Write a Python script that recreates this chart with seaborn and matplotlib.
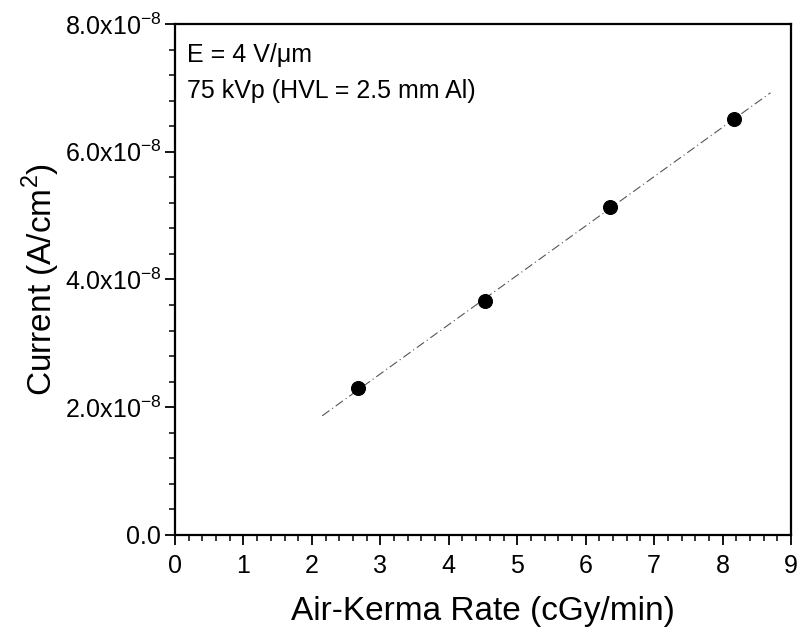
import numpy as np
import pandas as pd
import matplotlib
matplotlib.use("Agg")
import matplotlib.pyplot as plt
import seaborn as sns
from matplotlib.ticker import MultipleLocator, FuncFormatter

sns.set_theme(style="white")
plt.rcParams['font.family'] = ['Liberation Sans', 'DejaVu Sans']
plt.rcParams['mathtext.fontset'] = 'custom'
plt.rcParams['mathtext.rm'] = 'Liberation Sans'
plt.rcParams['text.color'] = 'black'
plt.rcParams['axes.labelcolor'] = 'black'

air_kerma = [2.68, 4.53, 6.36, 8.17]
current = [2.30e-8, 3.66e-8, 5.13e-8, 6.52e-8]
fit_range = [2.15, 8.7]

df = pd.DataFrame({"x": air_kerma, "y": current})
coef = np.polyfit(air_kerma, current, 1)
fit_x = np.linspace(fit_range[0], fit_range[1], 50)
fit_df = pd.DataFrame({"x": fit_x, "y": np.polyval(coef, fit_x)})

fig = plt.figure(figsize=(7.97, 6.3), dpi=100)
ax = fig.add_axes([0.2196, 0.1508, 0.7729, 0.8111])

sns.lineplot(data=fit_df, x="x", y="y", ax=ax, color="#555555", lw=0.8,
             linestyle=(0, (8, 3, 1, 3)))
sns.scatterplot(data=df, x="x", y="y", ax=ax, color="black", s=100,
                edgecolor="black", zorder=3)

ax.set_xlim(0, 9)
ax.set_ylim(0, 8e-8)
ax.xaxis.set_major_locator(MultipleLocator(1))
ax.xaxis.set_minor_locator(MultipleLocator(0.2))
ax.yaxis.set_major_locator(MultipleLocator(2e-8))
ax.yaxis.set_minor_locator(MultipleLocator(0.4e-8))

def yfmt(v, pos):
    if abs(v) < 1e-12:
        return "0.0"
    return r"%.1fx10$^{\mathregular{-8}}$" % (v / 1e-8)
ax.yaxis.set_major_formatter(FuncFormatter(yfmt))

for s in ax.spines.values():
    s.set_color("black")
    s.set_linewidth(1.6)
ax.tick_params(which="major", direction="out", length=7, width=1.3,
               labelsize=18, colors="black", bottom=True, left=True, pad=3)
ax.tick_params(axis="x", which="major", pad=7)
ax.tick_params(which="minor", direction="out", length=4, width=1.1,
               bottom=True, left=True, colors="black")

ax.set_xlabel("Air-Kerma Rate (cGy/min)", fontsize=24, labelpad=13, color="black")
ax.set_ylabel("Current (A/cm$^{\\mathregular{2}}$)", fontsize=24, labelpad=2, color="black")

ax.text(0.0195, 0.9256, "E = 4 V/μm", transform=ax.transAxes,
        fontsize=18, va="baseline", ha="left", color="black")
ax.text(0.0195, 0.855, "75 kVp (HVL = 2.5 mm Al)", transform=ax.transAxes,
        fontsize=18, va="baseline", ha="left", color="black")

fig.savefig("out.png", dpi=100)
